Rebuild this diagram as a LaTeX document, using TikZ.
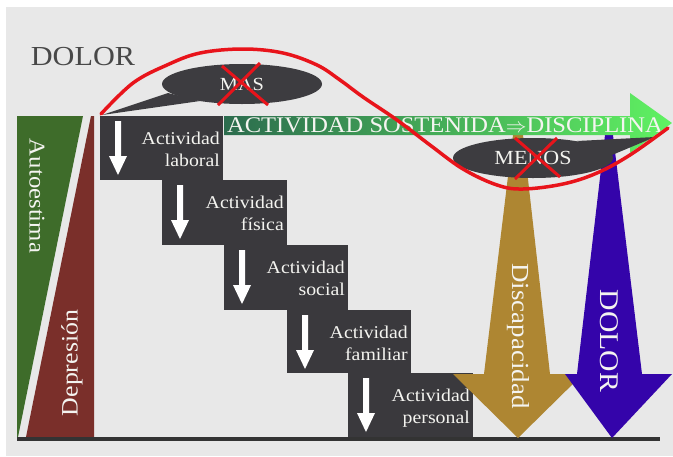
\documentclass[tikz,border=0pt]{standalone}
\usepackage{fontspec}
\setmainfont[FakeStretch=1.1]{Liberation Serif}
\usetikzlibrary{shapes.geometric}
\definecolor{bgc}{RGB}{232,232,232}
\definecolor{esteem}{RGB}{62,108,42}
\definecolor{depr}{RGB}{122,47,42}
\definecolor{blockc}{RGB}{58,57,61}
\definecolor{bubblec}{RGB}{61,60,64}
\definecolor{goldc}{RGB}{174,134,50}
\definecolor{bluec}{RGB}{52,4,170}
\definecolor{barl}{RGB}{44,108,78}
\definecolor{barr}{RGB}{96,242,98}
\definecolor{curvec}{RGB}{232,20,27}
\definecolor{titlec}{RGB}{72,72,72}
\definecolor{txtc}{RGB}{244,244,240}
\tikzset{
  stepblock/.style={fill=blockc},
  downarrow/.style={fill=white},
  steptext/.style={anchor=north east, inner sep=0pt, align=right, text=txtc,
    font=\fontsize{18}{22}\selectfont},
  bubble/.style={ellipse, fill=bubblec, minimum width=160pt, minimum height=40pt,
    inner sep=0pt, text=txtc},
  cross/.style={draw=curvec, line width=3pt},
  vlabel/.style={text=txtc, inner sep=0pt},
}
\begin{document}
\begin{tikzpicture}[x=1pt,y=-1pt]
\useasboundingbox (0,0) rectangle (673,456);
% background
\fill[white] (0,0) rectangle (673,456);
\fill[bgc] (6,7) rectangle (673,456);

% title
\node[text=titlec, font=\fontsize{27.5}{27.5}\selectfont, inner sep=0pt] (title) at (83,57) {DOLOR};

% self-esteem and depression wedges
\fill[esteem] (17,116) -- (83,116) -- (18,437) -- (17,437) -- cycle;
\fill[depr] (91,116) -- (94,116) -- (94,437) -- (26,437) -- cycle;
\node[vlabel, rotate=-90, font=\fontsize{22.5}{22.5}\selectfont] (esteemlbl) at (37,196) {Autoestima};
\node[vlabel, rotate=90, font=\fontsize{23.5}{23.5}\selectfont] (deprlbl) at (72,363) {Depresión};

% ground line
\draw[line width=3.5pt, color=black!80] (17,439) -- (660,439);

% staircase of activities
\foreach \L/\R/\T/\B/\name/\second in {
  100/223/116/180/lab/laboral,
  162/287/180/245/fis/física,
  224/348/245/310/soc/social,
  287/411/310/373/fam/familiar,
  348/473/373/437/per/personal}{
  \fill[stepblock] (\L,\T) rectangle (\R,\B);
  \fill[downarrow] ({\L+15},{\T+5}) -- ({\L+21},{\T+5}) -- ({\L+21},{\T+40})
     -- ({\L+27},{\T+40}) -- ({\L+18},{\T+59}) -- ({\L+9},{\T+40}) -- ({\L+15},{\T+40}) -- cycle;
  \node[steptext] (\name) at ({\R-3},{\T+15.5}) {Actividad\\\second};
}

% disability arrow
\fill[goldc] (513,135) -- (523,135) -- (550,374) -- (583,374) -- (518,438)
  -- (453,374) -- (484,374) -- cycle;
\node[vlabel, rotate=-90, font=\fontsize{24.5}{24.5}\selectfont] (dislbl) at (518,336) {Discapacidad};

% pain arrow
\fill[bluec] (605,135) -- (613,135) -- (642,374) -- (672,374) -- (612,438)
  -- (565,374) -- (577,374) -- cycle;
\node[vlabel, rotate=-90, font=\fontsize{27}{27}\selectfont] (painlbl) at (609,341) {DOLOR};

% sustained activity bar
\shade[left color=barl, right color=barr] (224,116) -- (630,116) -- (630,93) -- (672,123)
  -- (630,153) -- (630,135) -- (224,135) -- cycle;
\node[text=txtc, font=\fontsize{22.3}{22.3}\selectfont, inner sep=0pt, anchor=base] (bar) at (445,132)
  {ACTIVIDAD SOSTENIDA$\Rightarrow$DISCIPLINA};

% speech bubbles
\node[bubble, font=\fontsize{18.5}{18.5}\selectfont] (mas) at (242,84) {MAS};
\fill[bubblec] (168,93) -- (102,115) -- (200,101) -- cycle;
\node[bubble, font=\fontsize{20}{20}\selectfont] (menos) at (533,158) {MENOS};
\fill[bubblec] (577,141) -- (655,137) -- (612,155) -- cycle;

% wave
\draw[curvec, line width=3.5pt, line cap=round] plot[smooth, tension=0.6] coordinates {
  (101,114) (133,83) (167,65) (200,53) (243,49) (283,53) (317,65) (340,80) (363,97)
  (397,120) (430,145) (463,169) (497,185) (523,189) (563,184) (597,173) (630,155) (668,128)};

% crossed-out words
\draw[cross] (222,66) -- (268,105);
\draw[cross] (260,63) -- (218,105);
\draw[cross] (515,138) -- (560,177);
\draw[cross] (557,138) -- (515,179);
\end{tikzpicture}
\end{document}
